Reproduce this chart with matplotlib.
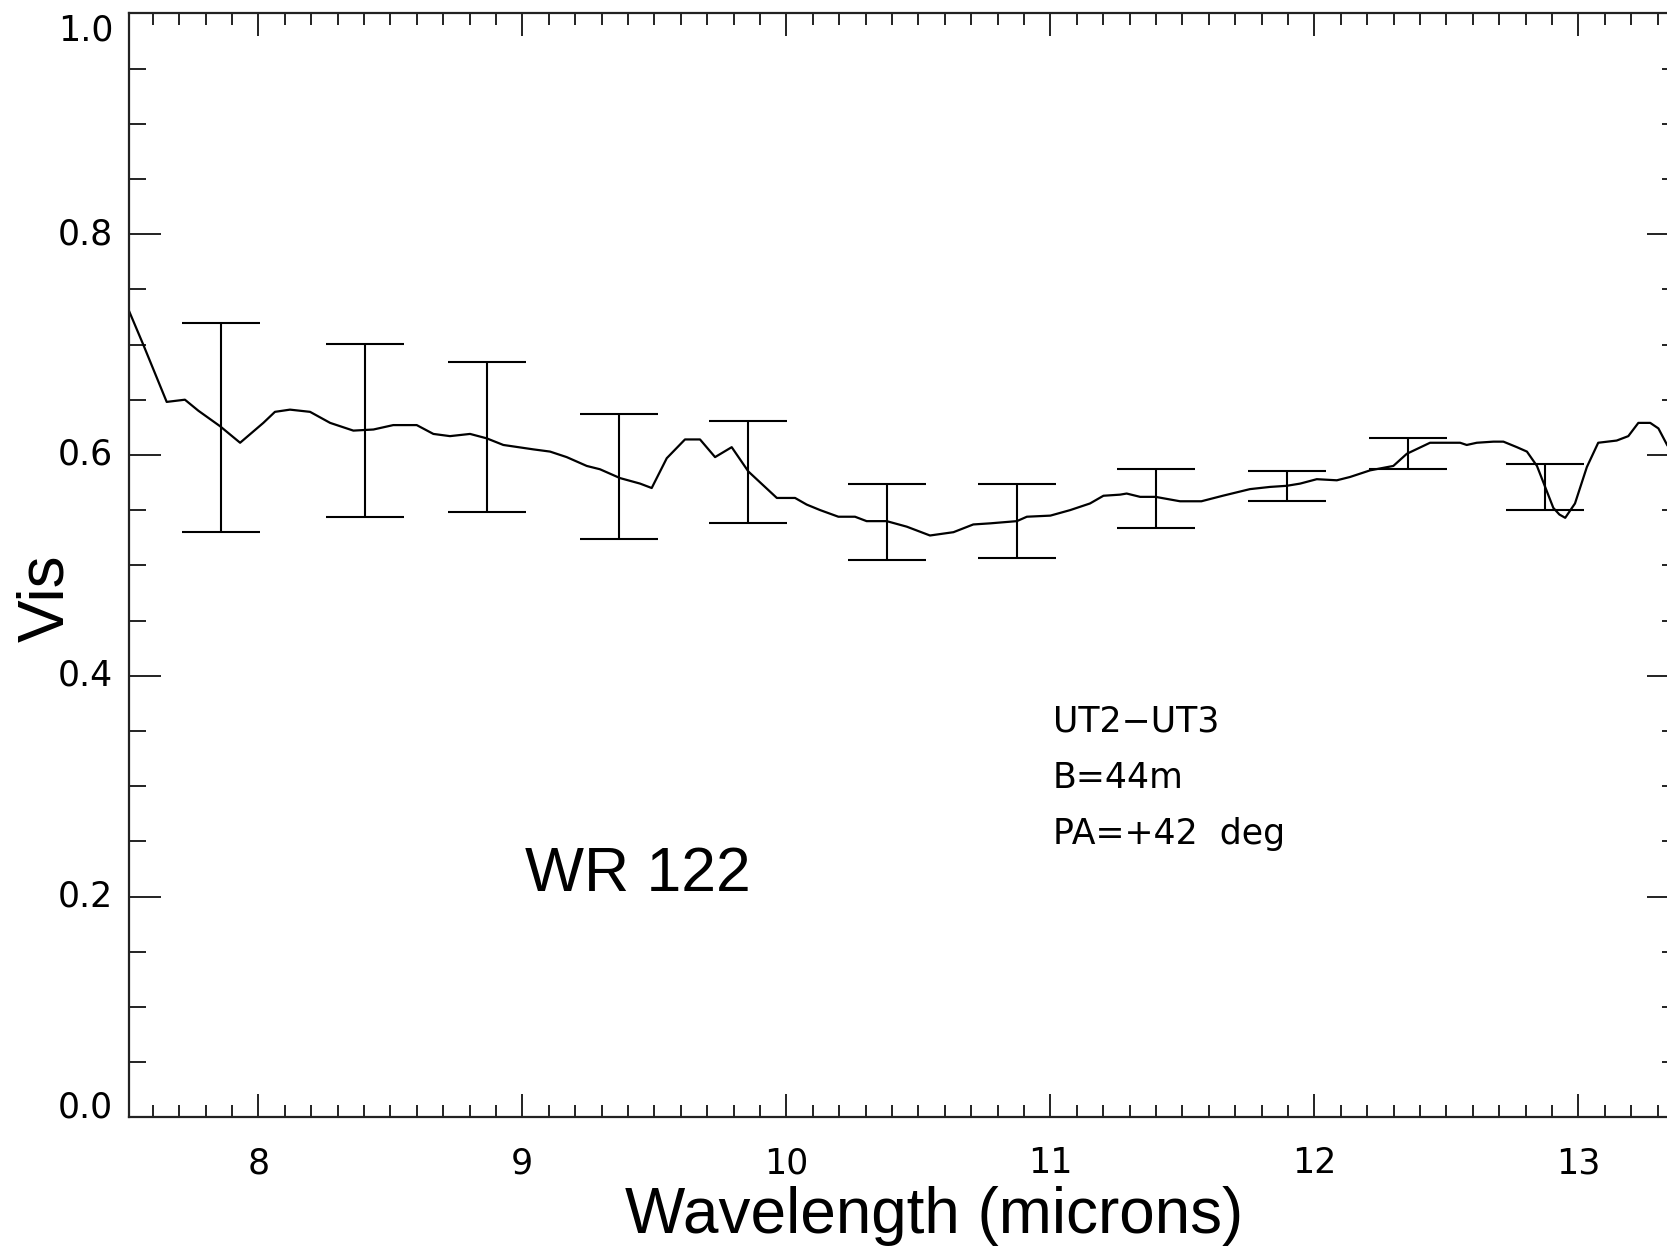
import numpy as np
import matplotlib
matplotlib.use("Agg")
import matplotlib.pyplot as plt
from matplotlib.ticker import MultipleLocator

# visibility curve (wavelength in microns)
wave = [7.511, 7.564, 7.653, 7.722, 7.773, 7.855, 7.931, 8.019, 8.063, 8.120,
        8.196, 8.272, 8.360, 8.436, 8.511, 8.600, 8.663, 8.726, 8.802, 8.865,
        8.928, 9.042, 9.105, 9.168, 9.244, 9.294, 9.370, 9.446, 9.490, 9.547,
        9.616, 9.673, 9.730, 9.793, 9.856, 9.919, 9.964, 10.033, 10.077, 10.128,
        10.197, 10.260, 10.304, 10.380, 10.456, 10.544, 10.633, 10.708, 10.772, 10.873,
        10.911, 11.000, 11.075, 11.150, 11.201, 11.264, 11.289, 11.340, 11.398, 11.491,
        11.572, 11.653, 11.756, 11.832, 11.895, 11.946, 12.009, 12.085, 12.135, 12.211,
        12.299, 12.350, 12.438, 12.552, 12.577, 12.615, 12.678, 12.716, 12.767, 12.805,
        12.843, 12.874, 12.905, 12.928, 12.950, 12.987, 13.032, 13.075, 13.145, 13.189,
        13.227, 13.272, 13.303, 13.336]
vis = [0.730, 0.700, 0.648, 0.650, 0.640, 0.626, 0.611, 0.629, 0.639, 0.641,
       0.639, 0.629, 0.622, 0.623, 0.627, 0.627, 0.619, 0.617, 0.619, 0.615,
       0.609, 0.605, 0.603, 0.598, 0.590, 0.587, 0.579, 0.574, 0.570, 0.597,
       0.614, 0.614, 0.598, 0.607, 0.585, 0.571, 0.561, 0.561, 0.555, 0.550,
       0.544, 0.544, 0.540, 0.540, 0.535, 0.527, 0.530, 0.537, 0.538, 0.540,
       0.544, 0.545, 0.550, 0.556, 0.563, 0.564, 0.565, 0.562, 0.562, 0.558,
       0.558, 0.563, 0.569, 0.571, 0.572, 0.574, 0.578, 0.577, 0.580, 0.586,
       0.590, 0.601, 0.611, 0.611, 0.609, 0.611, 0.612, 0.612, 0.607, 0.603,
       0.590, 0.571, 0.552, 0.546, 0.543, 0.556, 0.589, 0.611, 0.613, 0.617,
       0.629, 0.629, 0.624, 0.609]

# error bars: position, lower and upper ends
err_x = [7.860, 8.404, 8.865, 9.367, 9.856, 10.380, 10.875, 11.399, 11.895, 12.356, 12.874]
err_lo = [0.530, 0.5435, 0.5486, 0.5236, 0.5386, 0.5048, 0.5066, 0.5334, 0.5585, 0.5870, 0.5501]
err_hi = [0.7192, 0.7007, 0.6841, 0.6368, 0.6304, 0.5734, 0.5734, 0.5874, 0.5857, 0.6153, 0.5921]

info_lines = ["UT2\u2212UT3", "B=44m", "PA=+42  deg"]

fig = plt.figure(figsize=(16.67, 12.47), dpi=100)
W, H = 1667.0, 1247.0
# axes runs a little past the right edge of the picture (cropped original)
ax = fig.add_axes([129 / W, 1 - 1117.3 / H, 1550 / W, 1104 / H])

ax.plot(wave, vis, color="black", lw=1.6)

lo = np.array(err_lo)
hi = np.array(err_hi)
mid = (lo + hi) / 2
ax.errorbar(err_x, mid, yerr=(hi - lo) / 2, fmt="none", ecolor="black",
            elinewidth=1.5, capsize=28.4, capthick=1.5)

ax.set_xlim(7.5102, 13.381)
ax.set_ylim(0.0, 1.0)

ax.xaxis.set_major_locator(MultipleLocator(1))
ax.xaxis.set_minor_locator(MultipleLocator(0.1))
ax.yaxis.set_major_locator(MultipleLocator(0.2))
ax.yaxis.set_minor_locator(MultipleLocator(0.05))
ax.yaxis.set_major_formatter(lambda v, p: "%.1f" % v)

ax.tick_params(which="both", direction="in", top=True, right=True, width=1.4,
               color="#222222", labelsize=25, labelcolor="black")
ax.tick_params(axis="x", which="major", length=16.5, pad=21)
ax.tick_params(axis="x", which="minor", length=8.6)
ax.tick_params(axis="y", which="major", length=23)
ax.tick_params(axis="y", which="minor", length=12.2)
ax.tick_params(axis="y", which="major", pad=11.5)
for s in ax.spines.values():
    s.set_linewidth(1.6)
    s.set_color("#222222")

# end labels sit inside the axis range like the IDL original
fig.canvas.draw()
for t in ax.get_yticklabels():
    if t.get_text() == "0.0":
        t.set_va("baseline")
    elif t.get_text() == "1.0":
        t.set_va("top")
    else:
        t.set_va("center")

big = "Liberation Sans"
fig.text(934 / W, 1 - 1233 / H, "Wavelength (microns)", family=big, fontsize=46,
         ha="center", va="baseline")
fig.text(63 / W, 1 - 598 / H, "Vis", family=big, fontsize=46, rotation=90,
         rotation_mode="anchor", ha="center", va="baseline")

ax.text(9.01, 0.205, "WR 122", family=big, fontsize=45, ha="left", va="baseline")

for i, line in enumerate(info_lines):
    ax.text(11.009, 0.3493 - i * 0.0509, line, fontsize=25, ha="left",
            va="baseline", family="DejaVu Sans")

fig.savefig("out.png", dpi=100)
